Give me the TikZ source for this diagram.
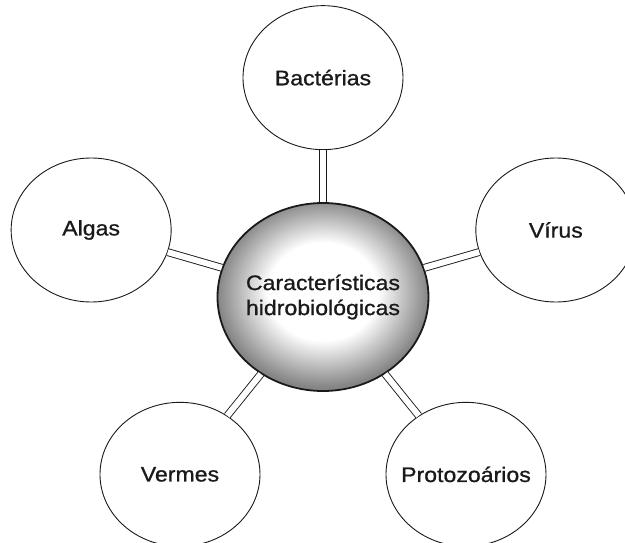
\documentclass[tikz,border=0pt]{standalone}
\usepackage{fontspec}
\setmainfont[FakeStretch=1.1,FakeBold=0.9]{Liberation Sans}
\usepackage{xcolor}
\definecolor{cLine}{HTML}{1A1A1A}
\definecolor{cEdge}{HTML}{858585}
\usepackage{tikz}
\usetikzlibrary{positioning,shapes.geometric}
\pgfdeclareradialshading{hub-shade}{\pgfpoint{0bp}{2bp}}{%
  color(0bp)=(white); color(13bp)=(white); color(25bp)=(cEdge); color(50bp)=(cEdge)}
\tikzset{
  node-item/.style={draw=cLine,line width=0.9pt,ellipse,minimum width=160pt,
    minimum height=144pt,inner sep=0pt,fill=white},
  node-hub/.style={draw=cLine,line width=1.8pt,ellipse,minimum width=211pt,
    minimum height=188pt,inner sep=0pt,shade,shading=hub-shade},
  link/.style={draw=cLine,line width=0.9pt,double=white,double distance=6pt},
}

\begin{document}
\begin{tikzpicture}[font=\fontsize{21pt}{25pt}\selectfont,text=cLine]
  \clip (-323pt,-245pt) rectangle (302pt,297pt);
  \node[node-hub,label={[align=center]center:Características\\hidrobiológicas}] (ch) at (0,0) {};
  \node[node-item,label=center:Bactérias,above=52pt of ch] (bac) {};
  \node[node-item,label=center:Algas,left=45pt of ch,yshift=67pt] (alg) {};
  \node[node-item,label=center:Vírus,right=46pt of ch,yshift=67pt] (vir) {};
  \node[node-item,label=center:Vermes,below=10pt of ch,xshift=-143pt] (ver) {};
  \node[node-item,label=center:Protozoários,below=10pt of ch,xshift=143pt] (pro) {};
  \foreach \n in {bac,alg,vir,ver,pro}
    \draw[link] (ch) -- (\n);
\end{tikzpicture}
\end{document}
